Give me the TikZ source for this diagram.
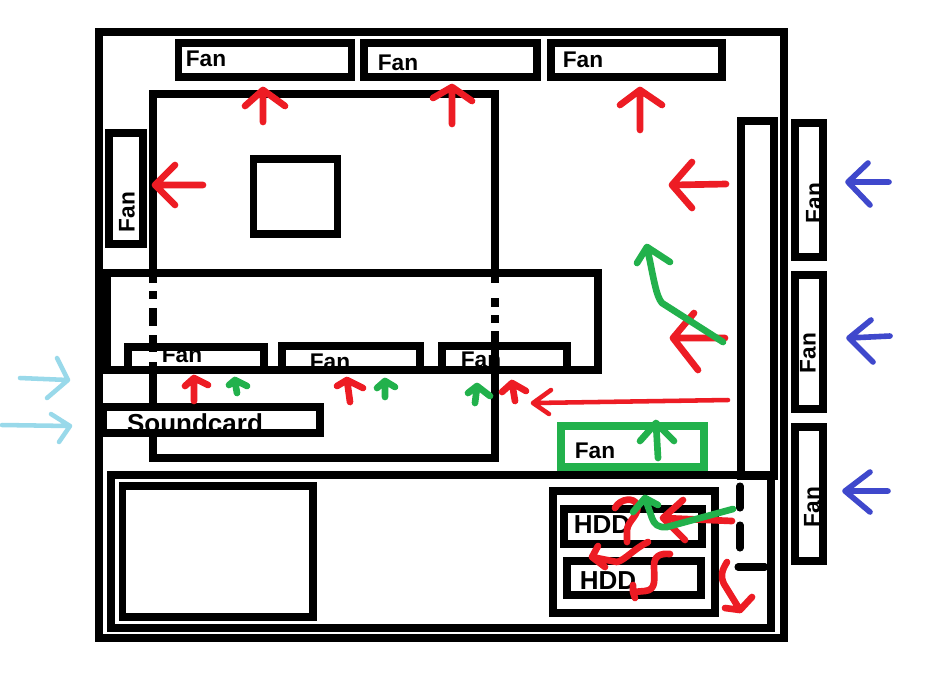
\documentclass[tikz,border=0pt]{standalone}
\usepackage{fontspec}
\setmainfont{Liberation Sans}[Ligatures=TeX]
\definecolor{pred}{HTML}{ED1C24}
\definecolor{pgreen}{HTML}{22B14C}
\definecolor{pblue}{HTML}{3F48CC}
\definecolor{plight}{HTML}{99D9EA}
\tikzset{
  box/.style={draw=black,line width=5.3pt,line join=miter},
  gbox/.style={draw=pgreen,line width=5.3pt},
  wire/.style={line cap=round,line join=round},
  ra/.style={wire,draw=pred,line width=5pt},
  rathin/.style={wire,draw=pred,line width=3.4pt},
  ga/.style={wire,draw=pgreen,line width=5pt},
  ba/.style={wire,draw=pblue,line width=4.2pt},
  la/.style={wire,draw=plight,line width=3.4pt},
  dsh/.style={draw=black,line width=5.3pt},
  lab/.style={inner sep=0pt,font=\fontsize{17}{17}\selectfont\bfseries,text=black},
  labbig/.style={inner sep=0pt,font=\fontsize{19.5}{19.5}\selectfont\bfseries,text=black},
}
\begin{document}
\begin{tikzpicture}[x=0.75pt,y=-0.75pt]
\useasboundingbox (0,0) rectangle (937,687);
\fill[white] (0,0) rectangle (937,687);
% case
\draw[box] (99,32) rectangle (784,638);
% top fans
\draw[box] (178.5,43) rectangle (351.5,77);
\draw[box] (364,43) rectangle (537,77);
\draw[box] (551,43) rectangle (722,77);
% left fan
\draw[box] (109,133) rectangle (143,244);
% right duct and fans
\draw[box] (741,121) rectangle (774,476);
\draw[box] (795,123) rectangle (823,257);
\draw[box] (795,275) rectangle (823,409);
\draw[box] (795,427) rectangle (823,561);
% motherboard
\draw[dsh] (153,283) -- (153,94) -- (495,94) -- (495,283);
\draw[dsh] (153,291) -- (153,299);
\draw[dsh] (153,308) -- (153,326);
\draw[dsh] (153,335) -- (153,352);
\draw[dsh] (153,362) -- (153,458) -- (495,458) -- (495,331);
\draw[dsh] (495,298) -- (495,307);
\draw[dsh] (495,315) -- (495,323);
\draw[box] (253.5,159) rectangle (337.5,234);
% drive bay
\draw[box] (107,273) rectangle (598,370);
\fill[black] (99,273) rectangle (111,370);
% PCI fans
\draw[box] (128,347) rectangle (264,370);
\draw[box] (282,346) rectangle (420,370);
\draw[box] (442,346) rectangle (567,370);
% soundcard
\draw[box,fill=white] (103,407) rectangle (320,433);
\draw[line width=5.3pt] (99,400) -- (99,440);
% power supply area
\draw[box] (111,475) -- (771,475) -- (771,628) -- (111,628) -- cycle;
\draw[box] (122.5,486) rectangle (313,617);
% HDD cage
\draw[box] (553,491) rectangle (715,613);
\draw[box] (564,509) rectangle (702,544);
\draw[box] (567,561) rectangle (701,595);
\draw[dsh,line cap=round] (740,486) -- (740,508);
\draw[dsh,line cap=round] (740,525) -- (740,548);
\draw[dsh,line cap=round] (738,567) -- (765,567);
% green fan
\draw[gbox] (561,426) rectangle (704,467);
% labels
\node[lab] (t1) at (206,59) {Fan};
\node[lab] (t2) at (398,63) {Fan};
\node[lab] (t3) at (583,60) {Fan};
\node[lab,rotate=90] (t4) at (127,212) {Fan};
\node[lab,rotate=90] (t5) at (814,203) {Fan};
\node[lab,rotate=90] (t6) at (808,353) {Fan};
\node[lab,rotate=90] (t7) at (812,507) {Fan};
\node[lab,anchor=base] (t8) at (182,362) {Fan};
\node[lab,anchor=base] (t9) at (330,369) {Fan};
\node[lab,anchor=base] (t10) at (481,367) {Fan};
\node[lab] (t11) at (595,451) {Fan};
\node[labbig,anchor=base] (t12) at (195,432) {Soundcard};
\node[labbig] (t13) at (602,525) {HDD};
\node[labbig] (t14) at (608,581) {HDD};
% red arrows, upper
\draw[ra] (263,122) -- (263,90) (245,106) -- (263,90) -- (285,106);
\draw[ra] (452,124) -- (452,87) (433,98) -- (452,87) -- (472,101);
\draw[ra] (640,130) -- (640,90) (620,105) -- (640,90) -- (662,105);
\draw[ra] (203,185) -- (155,185) (175,165) -- (155,185) -- (175,205);
\draw[ra] (726,184) -- (672,185) (692,162) -- (672,185) -- (692,208);
\draw[ra] (725,338) -- (673,338) (694,313) -- (673,338) -- (698,370);
\draw[rathin] (728,400) -- (533,403) (551,390) -- (533,403) -- (549,414);
% green main arrow
\draw[ga] (723,342) -- (662,303) .. controls (656,296) and (654,280) .. (647,247) (637,263) -- (647,247) -- (670,262);
% small arrows below the fans
\draw[ra] (194,401) -- (194,378) (185,386) -- (194,378) -- (208,385);
\draw[ra] (350,402) -- (347,380) (337,386) -- (347,380) -- (363,388);
\draw[ra] (515,401) -- (512,383) (502,392) -- (512,383) -- (526,391);
\draw[ga] (237,393) -- (235,382) (229,385) -- (235,380) -- (247,386);
\draw[ga] (385,397) -- (385,382) (377,388) -- (385,381) -- (395,387);
\draw[ga] (475,403) -- (477,387) (468,393) -- (477,386) -- (490,396);
% green fan arrow
\draw[ga] (658,458) -- (656,423) (640,441) -- (656,423) -- (674,441);
% blue arrows
\draw[ba] (889,182) -- (848,182) (868,163) -- (848,182) -- (870,205);
\draw[ba] (890,336) -- (849,338) (871,320) -- (849,338) -- (873,362);
\draw[ba] (888,491) -- (845,491) (870,472) -- (845,491) -- (870,512);
% light blue arrows
\draw[la] (20,378) -- (68,380) (57,358) -- (68,380) -- (47,398);
\draw[la] (2,425) -- (70,426) (51,414) -- (70,426) -- (59,442);
% red squiggles at the drives
\draw[ra] (615,508) .. controls (620,498) and (635,497) .. (637,505) .. controls (640,515) and (628,520) .. (627,530) -- (627,542);
\draw[ra] (732,521) -- (663,518) (683,500) -- (663,518) -- (685,540);
\draw[ra] (648,542) .. controls (635,548) and (625,560) .. (617,562) -- (592,557) (598,546) -- (592,557) -- (605,567);
\draw[ra] (670,554) .. controls (660,553) and (654,556) .. (654,566) .. controls (654,578) and (657,590) .. (645,591) -- (633,592) (633,585) -- (633,592) -- (635,598);
\draw[ra] (727,562) .. controls (722,570) and (720,576) .. (724,584) -- (740,610) (725,608) -- (740,610) -- (752,597);
% green arrow at the drives
\draw[ga] (733,509) -- (667,527) .. controls (658,528) and (654,524) .. (652,518) -- (645,498) (633,512) -- (645,498) -- (658,505);
\end{tikzpicture}
\end{document}
